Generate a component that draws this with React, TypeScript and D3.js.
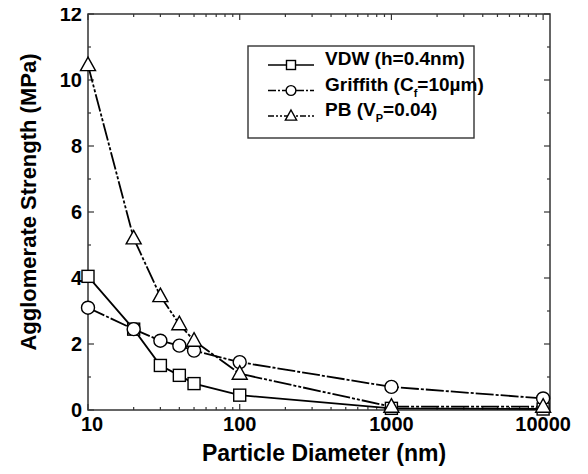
import React, { useEffect, useRef } from "react";
import * as d3 from "d3";

const diameters = [10, 20, 30, 40, 50, 100, 1000, 10000];
const vdw = [4.05, 2.45, 1.35, 1.05, 0.8, 0.45, 0.05, 0.03];
const griffith = [3.1, 2.45, 2.1, 1.95, 1.8, 1.45, 0.7, 0.35];
const pb = [10.45, 5.2, 3.45, 2.6, 2.1, 1.1, 0.1, 0.1];
const yTicks = [0, 2, 4, 6, 8, 10, 12];
const xTicks = [10, 100, 1000, 10000];

const series = [
  { name: "vdw", values: vdw, symbol: "square", dash: "none", legendDash: "none" },
  { name: "griffith", values: griffith, symbol: "circle", dash: "18,2,3,2", legendDash: "8,2,2,2" },
  { name: "pb", values: pb, symbol: "triangle", dash: "18,2,3,2,3,2", legendDash: "6,2,2,2,2,2" },
];

const margin = { top: 14, right: 38, bottom: 64, left: 88 };
const W = 588;
const H = 474;
const font = "'Liberation Sans', Arial, sans-serif";

const drawMarker = (g, type, cx, cy, s = 1) => {
  if (type === "square") {
    g.append("rect")
      .attr("x", cx - 6 * s)
      .attr("y", cy - 6 * s)
      .attr("width", 12 * s)
      .attr("height", 12 * s)
      .attr("fill", "white")
      .attr("stroke", "black")
      .attr("stroke-width", 1.4);
  } else if (type === "circle") {
    g.append("circle")
      .attr("cx", cx)
      .attr("cy", cy)
      .attr("r", 6.5 * s)
      .attr("fill", "white")
      .attr("stroke", "black")
      .attr("stroke-width", 1.4);
  } else {
    g.append("path")
      .attr(
        "d",
        `M${cx},${cy - 8 * s}L${cx + 7.5 * s},${cy + 5.5 * s}L${cx - 7.5 * s},${cy + 5.5 * s}Z`
      )
      .attr("fill", "white")
      .attr("stroke", "black")
      .attr("stroke-width", 1.4);
  }
};

const Chart = () => {
  const ref = useRef(null);

  useEffect(() => {
    const root = d3.select(ref.current);
    root.selectAll("*").remove();
    const width = W - margin.left - margin.right;
    const height = H - margin.top - margin.bottom;

    const svg = root
      .append("g")
      .attr("transform", `translate(${margin.left},${margin.top})`);

    const x = d3.scaleLog().domain([10, 11100]).range([0, width]);
    const y = d3.scaleLinear().domain([0, 12]).range([height, 0]);

    // frame
    svg
      .append("rect")
      .attr("width", width)
      .attr("height", height)
      .attr("fill", "none")
      .attr("stroke", "#333")
      .attr("stroke-width", 1.5);

    // ticks on all four sides, pointing inward
    const ticks = svg.append("g").attr("stroke", "#333").attr("stroke-width", 1.2);
    for (let v = 0; v <= 12; v += 1) {
      const len = v % 2 === 0 ? 6 : 3;
      ticks.append("line").attr("x1", 0).attr("x2", len).attr("y1", y(v)).attr("y2", y(v));
      ticks
        .append("line")
        .attr("x1", width)
        .attr("x2", width - len)
        .attr("y1", y(v))
        .attr("y2", y(v));
    }
    x.ticks().forEach((v) => {
      if (v > 11100) return;
      const len = xTicks.includes(v) ? 6 : 3;
      ticks.append("line").attr("x1", x(v)).attr("x2", x(v)).attr("y1", height).attr("y2", height - len);
      ticks.append("line").attr("x1", x(v)).attr("x2", x(v)).attr("y1", 0).attr("y2", len);
    });

    // tick labels
    svg
      .append("g")
      .selectAll("text")
      .data(yTicks)
      .join("text")
      .attr("x", -6)
      .attr("y", (d) => y(d))
      .attr("dy", "0.36em")
      .attr("text-anchor", "end")
      .attr("font-family", font)
      .attr("font-weight", "bold")
      .attr("font-size", 20)
      .text((d) => d);

    svg
      .append("g")
      .selectAll("text")
      .data(xTicks)
      .join("text")
      .attr("x", (d, i) => x(d) + (i === 0 ? 4 : 0))
      .attr("y", height + 21)
      .attr("text-anchor", "middle")
      .attr("font-family", font)
      .attr("font-weight", "bold")
      .attr("font-size", 20)
      .text((d) => d);

    // axis titles
    svg
      .append("text")
      .attr("x", 324 - margin.left)
      .attr("y", height + 51)
      .attr("text-anchor", "middle")
      .attr("font-family", font)
      .attr("font-weight", "bold")
      .attr("font-size", 23)
      .text("Particle Diameter (nm)");

    svg
      .append("text")
      .attr("transform", `translate(-52,${202 - margin.top}) rotate(-90)`)
      .attr("text-anchor", "middle")
      .attr("font-family", font)
      .attr("font-weight", "bold")
      .attr("font-size", 22)
      .text("Agglomerate Strength (MPa)");

    // lines
    const line = d3
      .line()
      .x((d) => x(d[0]))
      .y((d) => y(d[1]));

    series.forEach((s) => {
      const pts = diameters.map((d, i) => [d, s.values[i]]);
      svg
        .append("path")
        .datum(pts)
        .attr("d", line)
        .attr("fill", "none")
        .attr("stroke", "black")
        .attr("stroke-width", 1.8)
        .attr("stroke-dasharray", s.dash);
    });
    series.forEach((s) => {
      const g = svg.append("g");
      diameters.forEach((d, i) => drawMarker(g, s.symbol, x(d), y(s.values[i])));
    });

    // legend
    const lg = svg.append("g").attr("transform", `translate(${248 - margin.left},${46 - margin.top})`);
    lg.append("rect")
      .attr("width", 226)
      .attr("height", 92)
      .attr("fill", "white")
      .attr("stroke", "#333")
      .attr("stroke-width", 1.4);

    const labels = [
      [["VDW (h=0.4nm)", null]],
      [["Griffith (C", null], ["f", "sub"], ["=10\u00b5m)", null]],
      [["PB (V", null], ["P", "sub"], ["=0.04)", null]],
    ];

    series.forEach((s, i) => {
      const cy = 19 + i * 25.5;
      lg.append("line")
        .attr("x1", 20)
        .attr("x2", 66)
        .attr("y1", cy)
        .attr("y2", cy)
        .attr("stroke", "black")
        .attr("stroke-width", 1.4)
        .attr("stroke-dasharray", s.legendDash);
      drawMarker(lg, s.symbol, 43, cy, 0.75);
      const t = lg
        .append("text")
        .attr("x", 77)
        .attr("y", cy)
        .attr("dy", "0.36em")
        .attr("font-family", font)
        .attr("font-weight", "bold")
        .attr("font-size", 19);
      let prevSub = false;
      labels[i].forEach(([txt, kind]) => {
        if (kind === "sub") {
          t.append("tspan").attr("font-size", 11).attr("dy", 6).text(txt);
          prevSub = true;
        } else {
          t.append("tspan").attr("dy", prevSub ? -6 : 0).text(txt);
          prevSub = false;
        }
      });
    });
  }, []);

  return <svg ref={ref} width={W} height={H} style={{ display: "block" }} />;
};

export default function App() {
  return (
    <div style={{ margin: -8 }}>
      <Chart />
    </div>
  );
}
